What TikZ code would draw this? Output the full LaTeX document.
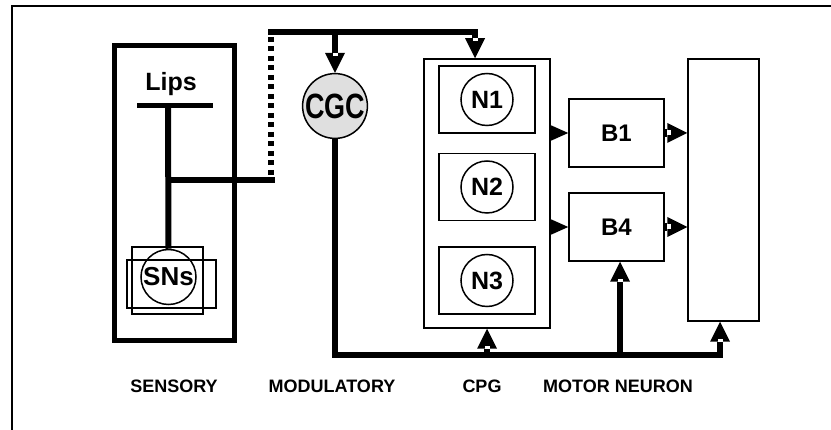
\documentclass[tikz,border=0pt]{standalone}
\usepackage{fontspec}
\setmainfont{Liberation Sans}
\usetikzlibrary{arrows.meta,calc}
\begin{document}
\begin{tikzpicture}[x=1pt,y=-1pt,
  thickbox/.style={draw,line width=5pt,inner sep=0pt},
  tbox/.style={draw,line width=1.5pt,inner sep=0pt},
  cir/.style={circle,draw,line width=1.5pt,inner sep=0pt},
  wire/.style={line width=6pt},
  lbl/.style={inner sep=0pt,font=\bfseries\fontsize{18}{18}\selectfont},
  bigtip/.style={-{Triangle[length=20pt,width=20pt,line width=0pt]}},
  smalltip/.style={-{Triangle[length=19pt,width=17pt,line width=0pt]}},
  notch/.style={fill=white}]
\useasboundingbox (0,0) rectangle (831,430);
% outer frame
\draw[line width=2pt] (11.5,431) -- (11.5,6) -- (832,6);

% sensory
\node[thickbox,minimum width=120pt,minimum height=295pt] (sens) at (174.5,193) {};
\node[inner sep=0pt,anchor=base,font=\bfseries\fontsize{25}{25}\selectfont] (lips) at (171,91) {Lips};
\coordinate (lipsL) at (137,105.5);
\coordinate (lipsR) at (213,105.5);
\coordinate (lipsmid) at (168,105.5);
\draw[line width=5pt] (lipsL) -- (lipsR);
\node[tbox,minimum width=71pt,minimum height=67pt] (ra) at (167.5,280.5) {};
\node[tbox,minimum width=89pt,minimum height=48pt] (rb) at (171.5,284) {};
\node[cir,minimum size=55pt,font=\bfseries\fontsize{26}{26}\selectfont] (sns) at (168.5,277) {SNs};
\draw[wire] (lipsmid) -- (sns.north);
\coordinate (dtop) at (271,37);
\coordinate (dbot) at (271,180);
\draw[wire] (lipsmid |- dbot) -- ($(dbot)+(4,0)$);
\draw[line width=6.5pt,dash pattern=on 5pt off 4.5pt] (dtop) -- (dbot);

% modulatory
\node[cir,fill=gray!25,minimum size=64pt,font=\bfseries\fontsize{27}{27}\selectfont] (cgc) at (335,106) {\scalebox{1}[1.3]{CGC}};

% CPG
\node[tbox,minimum width=126pt,minimum height=269pt] (cpg) at (487,193.5) {};
\foreach \n/\y in {1/99.5,2/187,3/280.5}{
  \node[tbox,minimum width=96pt,minimum height=67pt] (nb\n) at (487,\y) {};
  \node[cir,minimum size=52pt,font=\bfseries\fontsize{25}{25}\selectfont] (n\n) at (487,\y) {N\n};
}

% motor neurons
\node[tbox,minimum width=95pt,minimum height=68pt,font=\bfseries\fontsize{24}{24}\selectfont] (b1) at (616.5,133) {B1};
\node[tbox,minimum width=95pt,minimum height=68pt,font=\bfseries\fontsize{24}{24}\selectfont] (b4) at (616.5,227) {B4};
\node[tbox,minimum width=71pt,minimum height=262pt] (motor) at (723.5,190) {};

% top wire
\coordinate (tl) at (268,32.5);
\coordinate (cpgtop) at ($(cpg.north)+(-12,0)$);
\draw[wire,bigtip] (tl) -| (cpgtop);
\draw[wire,bigtip] (cgc.north |- tl) -- (cgc.north);
\fill[notch] ($(cpgtop)+(-2.5,-20)$) rectangle ++(5,3);
\fill[notch] ($(cgc.north)+(-2.5,-20)$) rectangle ++(5,3);

% bottom wire
\coordinate (jr) at (720,355);
\coordinate (motorin) at ($(motor.south)+(-3.5,0)$);
\coordinate (b4in) at ($(b4.south)+(3.5,0)$);
\draw[wire,bigtip] (cgc.south) |- (jr) -- (motorin);
\draw[wire,bigtip] (cpg.south |- jr) -- (cpg.south);
\draw[wire,bigtip] (b4in |- jr) -- (b4in);
\fill[notch] ($(motorin)+(-2.5,17)$) rectangle ++(5,3);
\fill[notch] ($(cpg.south)+(-2.5,17)$) rectangle ++(5,3);
\fill[notch] ($(b4in)+(-2.5,17)$) rectangle ++(5,3);

% CPG -> B
\draw[line width=1pt,smalltip] (cpg.east |- b1.west) -- (b1.west);
\draw[line width=1pt,smalltip] (cpg.east |- b4.west) -- (b4.west);

% B -> motor
\draw[line width=8pt,bigtip] (b1.east) -- (motor.west |- b1.east);
\draw[line width=8pt,bigtip] (b4.east) -- (motor.west |- b4.east);
\fill[notch] ($(motor.west |- b1.east)+(-20,-2.5)$) rectangle ++(4,5);
\fill[notch] ($(motor.west |- b4.east)+(-20,-2.5)$) rectangle ++(4,5);

% labels
\node[lbl] (lsens) at (174,386) {SENSORY};
\node[lbl] (lmod) at (332,386) {MODULATORY};
\node[lbl] (lcpg) at (482,386) {CPG};
\node[lbl] (lmot) at (618,386) {MOTOR NEURON};
\end{tikzpicture}
\end{document}
